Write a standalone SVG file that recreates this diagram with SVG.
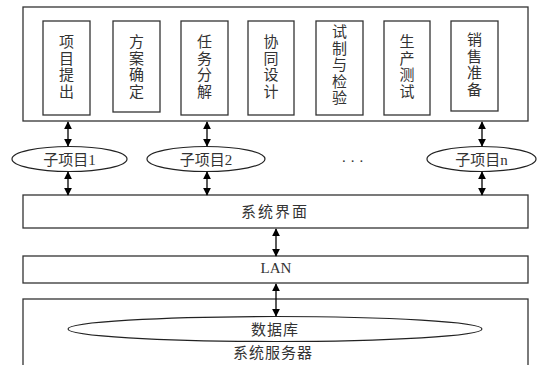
<svg xmlns="http://www.w3.org/2000/svg" width="537" height="365" viewBox="0 0 537 365">
<style>
.box{fill:#fff;stroke:#333;stroke-width:1.3}
.ell{fill:#fff;stroke:#222;stroke-width:1.2}
.t{font-family:"Liberation Serif","Noto Sans CJK SC",serif;font-size:15px;fill:#333;text-anchor:middle}
.v{font-family:"Noto Sans CJK SC",sans-serif;font-size:15px;fill:#333;text-anchor:middle;writing-mode:vertical-rl;letter-spacing:1.5px}
.c{stroke:#000;stroke-width:1.3;fill:none;marker-start:url(#a);marker-end:url(#a)}
</style>
<defs>
<marker id="a" viewBox="0 0 10 10" refX="9" refY="5" markerWidth="8" markerHeight="8" markerUnits="userSpaceOnUse" orient="auto-start-reverse">
<path d="M0,0 L10,5 L0,10 z" fill="#000"/>
</marker>
</defs>
<rect x="0" y="0" width="537" height="365" fill="#fff"/>
<g id="top-panel">
<rect class="box" x="23" y="7" width="505" height="114"/>
</g>
<g id="step1"><rect class="box" x="43" y="21" width="47" height="94"/>
<text class="v" x="66.5" y="67">项目提出</text></g>
<g id="step2"><rect class="box" x="113" y="21" width="47" height="91"/>
<text class="v" x="136.5" y="67">方案确定</text></g>
<g id="step3"><rect class="box" x="181" y="21" width="47" height="94"/>
<text class="v" x="204.5" y="67">任务分解</text></g>
<g id="step4"><rect class="box" x="248" y="21" width="46" height="94"/>
<text class="v" x="271" y="67">协同设计</text></g>
<g id="step5"><rect class="box" x="316" y="21" width="47" height="94"/>
<text class="v" x="339.5" y="65.5">试制与检验</text></g>
<g id="step6"><rect class="box" x="384" y="21" width="46" height="94"/>
<text class="v" x="407" y="67">生产测试</text></g>
<g id="step7"><rect class="box" x="451" y="21" width="47" height="90"/>
<text class="v" x="474.5" y="65">销售准备</text></g>
<g id="sub1"><ellipse class="ell" cx="69.5" cy="159" rx="57.5" ry="12.5"/><text class="t" x="69.5" y="164.5">子项目1</text></g>
<g id="sub2"><ellipse class="ell" cx="206" cy="159" rx="59" ry="12.5"/><text class="t" x="206" y="164.5">子项目2</text></g>
<g id="subn"><ellipse class="ell" cx="481.5" cy="159" rx="54.5" ry="12.5"/><text class="t" x="481.5" y="164.5">子项目n</text></g>
<g id="dots"><text class="t" x="355" y="162" letter-spacing="5">...</text></g>
<g id="ui"><rect class="box" x="23" y="195" width="505" height="33"/><text class="t" x="275" y="217" font-size="16" letter-spacing="2">系统界面</text></g>
<g id="lan"><rect class="box" x="23" y="256" width="505" height="27"/><text class="t" x="276" y="273">LAN</text></g>
<g id="server"><rect class="box" x="23" y="299" width="505" height="80"/>
<text class="t" x="273" y="358" font-size="16" letter-spacing="1">系统服务器</text></g>
<g id="db"><ellipse class="ell" cx="275" cy="329" rx="207" ry="12.5"/><text class="t" x="275" y="335" font-size="16" letter-spacing="1">数据库</text></g>
<g id="connectors">
<line class="c" x1="68" y1="122" x2="68" y2="146"/>
<line class="c" x1="207" y1="122" x2="207" y2="146"/>
<line class="c" x1="482" y1="122" x2="482" y2="146"/>
<line class="c" x1="68" y1="172" x2="68" y2="195"/>
<line class="c" x1="207" y1="172" x2="207" y2="195"/>
<line class="c" x1="482" y1="172" x2="482" y2="195"/>
<line class="c" x1="276" y1="229" x2="276" y2="256"/>
<line class="c" x1="276" y1="284" x2="276" y2="316"/>
</g>
</svg>
